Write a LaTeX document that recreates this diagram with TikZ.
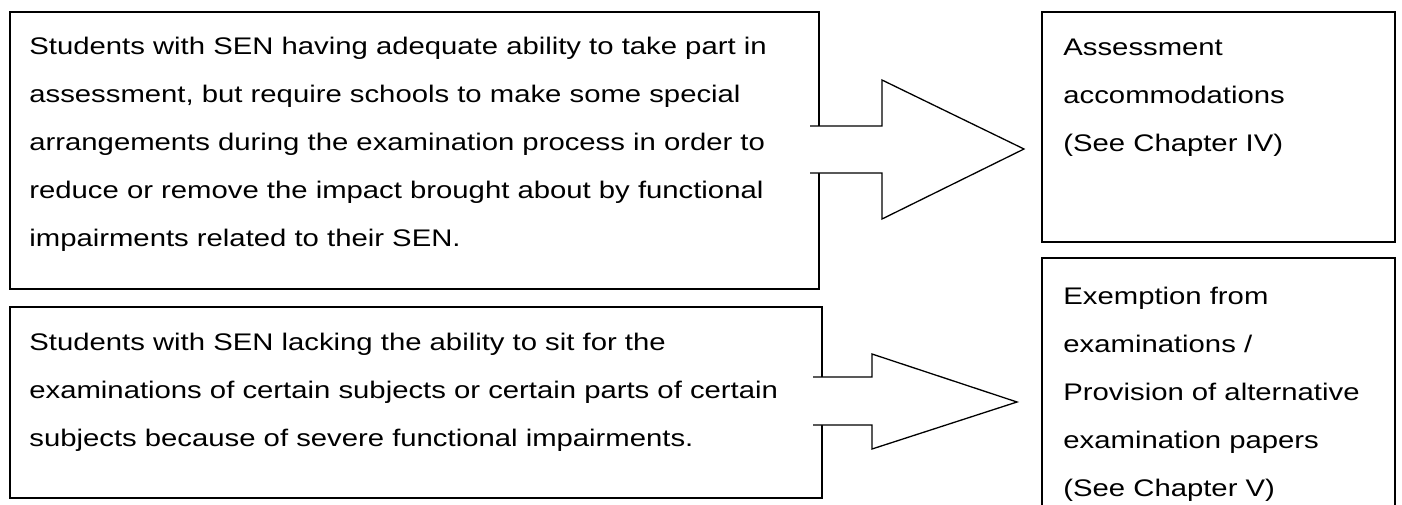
\documentclass[tikz,border=0pt]{standalone}
\usepackage{fontspec}
\setmainfont{Liberation Sans}[FakeStretch=1.22]
\usepackage{tikz}
\usetikzlibrary{positioning}
\tikzstyle{panel} = [rectangle, draw, line width=0.85pt, anchor=north west, inner sep=0pt]
\tikzstyle{blocktext} = [anchor=base west, align=left, inner sep=0pt, font=\fontsize{12pt}{24pt}\selectfont]
\tikzstyle{blockarrow} = [draw, fill=white, line width=0.65pt, line join=miter]

\begin{document}
\begin{tikzpicture}[x=0.5pt,y=-0.5pt]
    \useasboundingbox (0,0) rectangle (1402,504);
    \clip (0,0) rectangle (1402,504);
    \node[panel, minimum width=404.5pt, minimum height=138.5pt] (s1) at (9,11) {};
    \node[panel, minimum width=406pt, minimum height=95.5pt] (s2) at (9,306) {};
    \node[panel, minimum width=176.5pt, minimum height=115pt] (r1) at (1041,11) {};
    \node[panel, minimum width=176.5pt, minimum height=130pt] (r2) at (1041,257) {};
    \node[blocktext] (t1) at (29,246) {Students with SEN having adequate ability to take part in\\assessment, but require schools to make some special\\arrangements during the examination process in order to\\reduce or remove the impact brought about by functional\\impairments related to their SEN.};
    \node[blocktext] (t2) at (29,446) {Students with SEN lacking the ability to sit for the\\examinations of certain subjects or certain parts of certain\\subjects because of severe functional impairments.};
    \node[blocktext] (u1) at (1063,151) {Assessment\\accommodations\\(See Chapter IV)};
    \node[blocktext] (u2) at (1063,496) {Exemption from\\examinations /\\Provision of alternative\\examination papers\\(See Chapter V)};
    \draw[blockarrow] (810,126) -- (882,126) -- (882,80) -- (1024,149) -- (882,219) -- (882,173) -- (810,173);
    \draw[blockarrow] (813,377) -- (872,377) -- (872,354) -- (1017,402) -- (872,449) -- (872,425) -- (813,425);
\end{tikzpicture}
\end{document}
